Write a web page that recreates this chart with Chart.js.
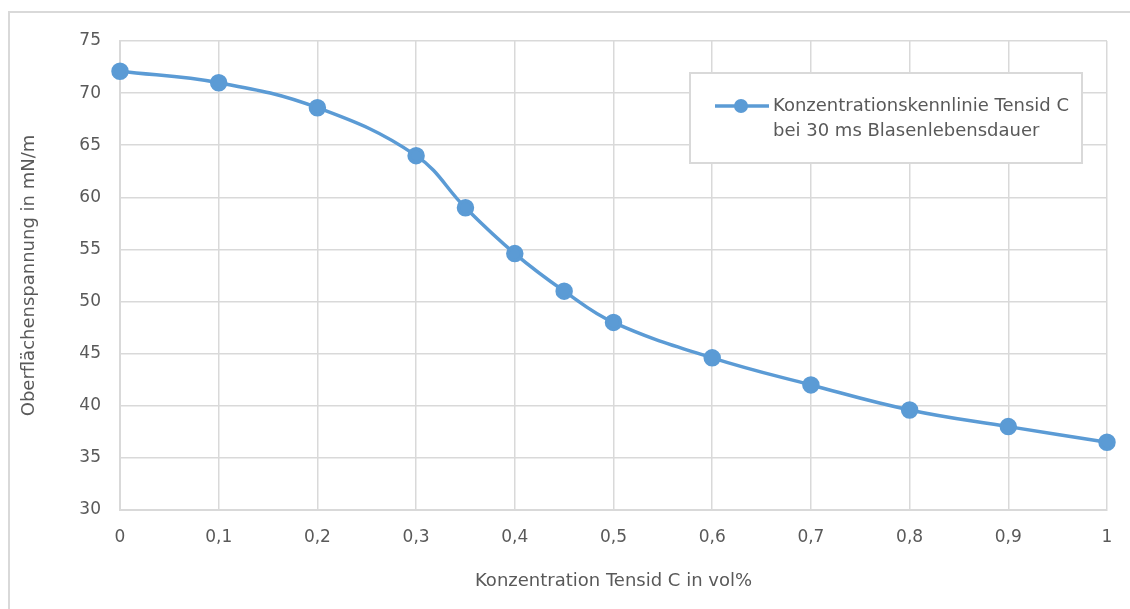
<!DOCTYPE html>
<html lang="de">
<head>
  <meta charset="UTF-8" />
  <title>Konzentrationskennlinie Tensid C</title>
  <style>
    html,body{margin:0;padding:0;background:#fff}
    #wrap{position:relative;width:1130px;height:609px;overflow:hidden}
    #frame{position:absolute;left:8px;top:11px;width:1200px;height:700px;border:2px solid #d9d9d9;box-sizing:border-box}
    #chart{position:absolute;left:0;top:0}
  </style>
  <script src="https://cdn.jsdelivr.net/npm/chart.js"></script>
</head>
<body>
<div id="wrap">
  <div id="frame"></div>
  <canvas id="chart" width="1130" height="609"></canvas>
</div>
<script>
// data
const concentration=[0,0.1,0.2,0.3,0.35,0.4,0.45,0.5,0.6,0.7,0.8,0.9,1];
const tension=[72.1,71,68.6,64,59,54.6,51,48,44.6,42,39.6,38,36.5];
const seriesLabel=['Konzentrationskennlinie Tensid C','bei 30 ms Blasenlebensdauer'];
const xTitle='Konzentration Tensid C in vol%';
const yTitle='Oberflächenspannung in mN/m';

const FONT='"DejaVu Sans", sans-serif';
const TXT='#595959';
const GRID='#d9d9d9';
const BLUE='#5b9bd5';

const comma=v=>String(Math.round(v*10)/10).replace('.',',');

// legend box drawn inside the plot area, top right
const boxLegend={
  id:'boxLegend',
  afterDraw(c){
    const ctx=c.ctx, a=c.chartArea;
    const x0=a.right-417, y0=a.top+32, w=392, h=90;
    ctx.save();
    ctx.fillStyle='#fff';
    ctx.fillRect(x0,y0,w,h);
    ctx.strokeStyle=GRID;ctx.lineWidth=2;
    ctx.strokeRect(x0,y0,w,h);
    const ly=y0+33;
    ctx.strokeStyle=BLUE;ctx.lineWidth=3.5;
    ctx.beginPath();ctx.moveTo(x0+25,ly);ctx.lineTo(x0+79,ly);ctx.stroke();
    ctx.fillStyle=BLUE;
    ctx.beginPath();ctx.arc(x0+51,ly,7,0,Math.PI*2);ctx.fill();
    ctx.fillStyle=TXT;ctx.font='18px '+FONT;ctx.textBaseline='middle';
    ctx.fillText(seriesLabel[0],x0+83,ly);
    ctx.fillText(seriesLabel[1],x0+83,ly+25);
    ctx.restore();
  }
};

new Chart(document.getElementById('chart'),{
  type:'line',
  data:{
    datasets:[{
      label:seriesLabel.join(' '),
      data:concentration.map((x,i)=>({x:x,y:tension[i]})),
      borderColor:BLUE,backgroundColor:BLUE,
      borderWidth:3.5,pointRadius:7,pointHoverRadius:7,
      tension:0.4,clip:false
    }]
  },
  options:{
    responsive:false,animation:false,
    layout:{padding:{left:15,top:41,right:23,bottom:17}},
    plugins:{legend:{display:false},tooltip:{enabled:false}},
    scales:{
      x:{
        type:'linear',min:0,max:1,
        ticks:{stepSize:0.1,padding:17,color:TXT,font:{family:FONT,size:17},callback:v=>comma(v)},
        grid:{color:GRID,lineWidth:1.5,drawTicks:false},
        border:{color:GRID,width:2},
        title:{display:true,text:xTitle,color:TXT,font:{family:FONT,size:18},padding:{top:4,bottom:0}},
        afterFit:s=>{s.height=82}
      },
      y:{
        min:30,max:75,
        ticks:{stepSize:5,padding:19,color:TXT,font:{family:FONT,size:17}},
        grid:{color:GRID,lineWidth:1.5,drawTicks:false},
        border:{color:GRID,width:2},
        title:{display:true,text:yTitle,color:TXT,font:{family:FONT,size:18},padding:{top:4,bottom:0}},
        afterFit:s=>{s.width=105}
      }
    }
  },
  plugins:[boxLegend]
});
</script>
</body>
</html>
